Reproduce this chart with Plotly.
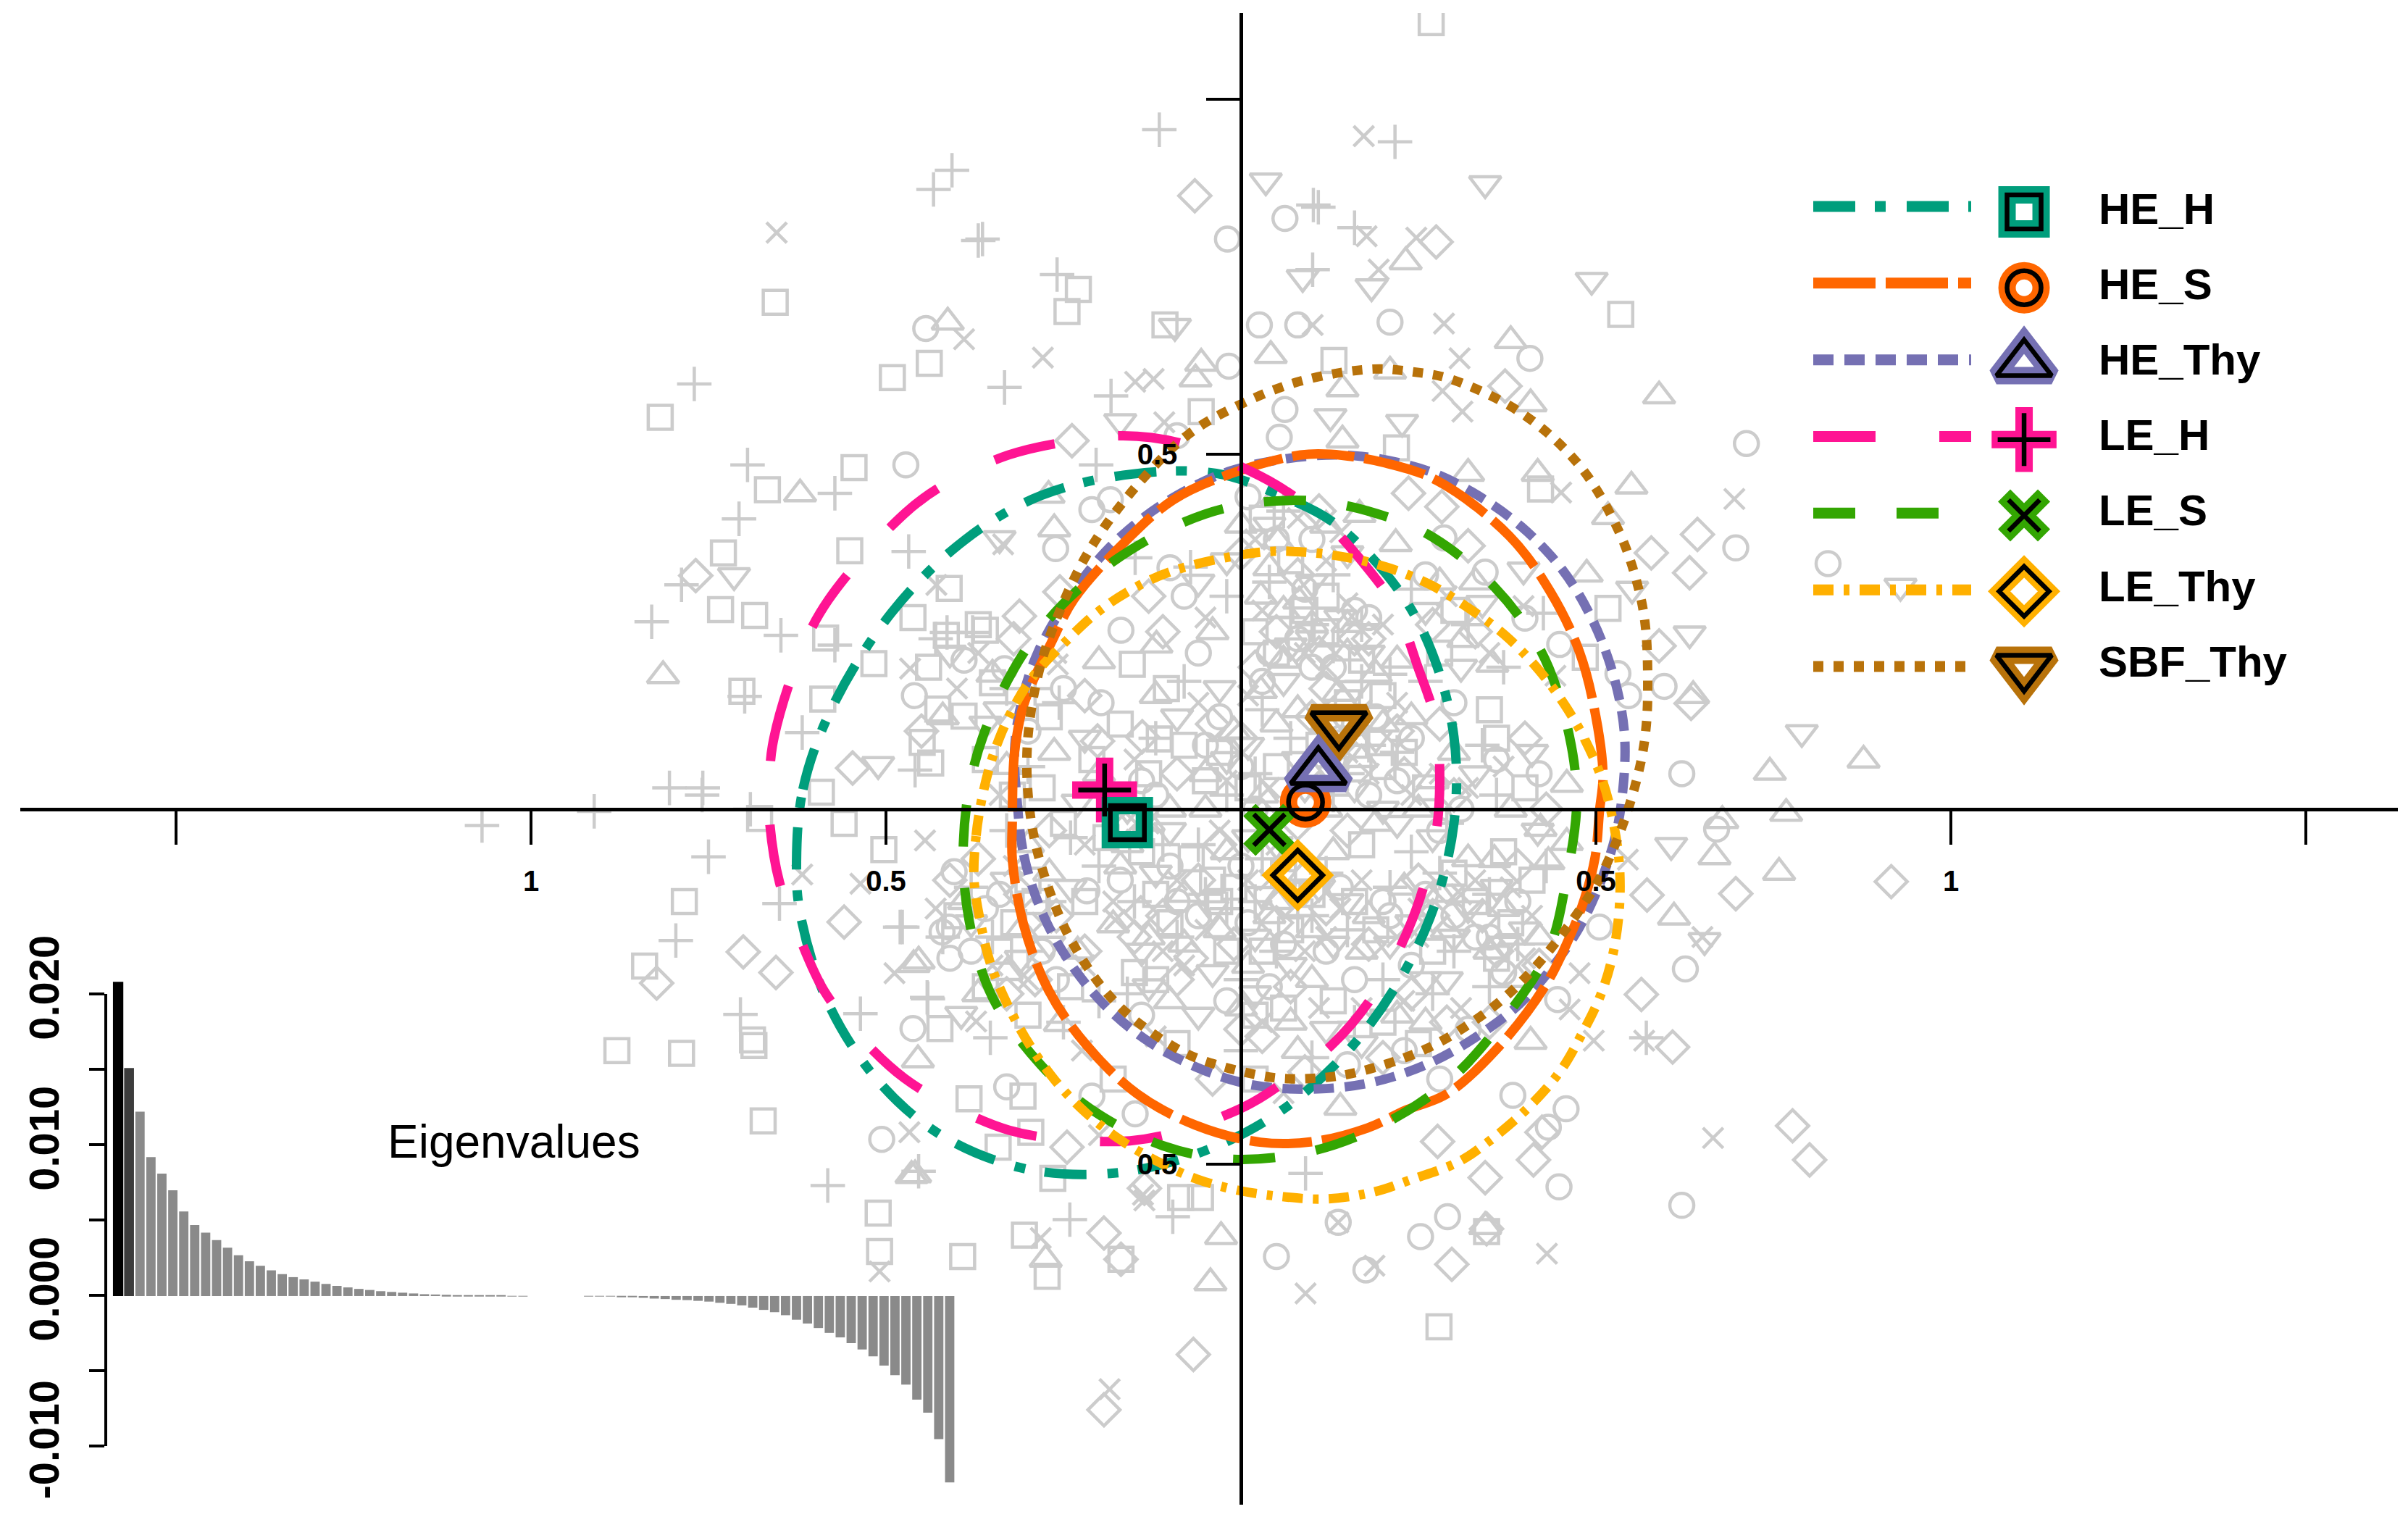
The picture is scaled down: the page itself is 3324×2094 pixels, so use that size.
import plotly.graph_objects as go

# group names, in legend order
groups = ["HE_H", "HE_S", "HE_Thy", "LE_H", "LE_S", "LE_Thy", "SBF_Thy"]

# group centres (factor scores)
centre_x = [-0.160, 0.091, 0.109, -0.192, 0.040, 0.080, 0.138]
centre_y = [-0.019, 0.010, 0.053, 0.027, -0.029, -0.093, 0.119]

# outlines, one list of (x, y) per group
he_h_pts = [(-.626,-.074),(-.617,.028),(-.577,.141),(-.492,.277),(-.388,.380),(-.281,.442),(-.153,.472),
            (-.035,.473),(.053,.443),(.133,.402),(.221,.310),(.269,.221),(.300,.102),(.300,-.020),(.270,-.143),
            (.216,-.253),(.142,-.350),(.046,-.432),(-.064,-.486),(-.184,-.513),(-.306,-.506),(-.421,-.460),
            (-.510,-.384),(-.582,-.272),(-.621,-.146),(-.626,-.074)]
he_s_pts = [(-.322,-.016),(-.319,.079),(-.306,.147),(-.265,.239),(-.235,.296),(-.169,.371),(-.095,.436),
            (-.013,.473),(.084,.499),(.126,.500),(.202,.488),(.276,.463),(.378,.385),(.436,.306),(.477,.221),
            (.500,.130),(.510,.048),(.505,-.003),(.499,-.067),(.484,-.126),(.463,-.180),(.429,-.248),(.361,-.337),
            (.290,-.401),(.232,-.424),(.178,-.449),(.103,-.468),(.027,-.469),(-.064,-.445),(-.146,-.401),
            (-.217,-.333),(-.271,-.255),(-.306,-.163),(-.322,-.071),(-.322,-.016)]
he_thy_pts = [(-.316,.020),(-.306,-.064),(-.282,-.141),(-.245,-.210),(-.192,-.276),(-.129,-.328),(-.054,-.367),
              (.020,-.389),(.109,-.394),(.188,-.384),(.265,-.358),(.337,-.317),(.402,-.265),(.477,-.166),
              (.524,-.051),(.538,.028),(.540,.109),(.524,.191),(.494,.269),(.453,.337),(.395,.398),(.327,.446),
              (.262,.477),(.170,.497),(.092,.497),(-.013,.477),(-.092,.441),(-.166,.387),(-.224,.323),(-.286,.221),
              (-.312,.137),(-.319,.079),(-.316,.020)]
le_h_pts = [(-.664,.017),(-.660,.089),(-.622,.216),(-.581,.295),(-.472,.418),(-.408,.463),(-.327,.499),(-.255,.516),
            (-.166,.526),(-.086,.516),(-.022,.492),(.051,.456),(.116,.408),(.173,.346),(.218,.283),(.249,.201),
            (.274,.124),(.280,.038),(.274,-.039),(.252,-.126),(.223,-.197),(.181,-.270),(.128,-.332),(.061,-.384),
            (.007,-.418),(-.088,-.454),(-.156,-.467),(-.251,-.465),(-.327,-.452),(-.408,-.418),(-.474,-.379),
            (-.537,-.320),(-.587,-.256),(-.622,-.180),(-.650,-.103),(-.664,-.016),(-.664,.017)]
le_s_pts = [(-.391,-.049),(-.376,.061),(-.337,.165),(-.281,.255),(-.200,.334),(-.107,.392),(-.013,.426),(.106,.434),
            (.211,.410),(.272,.382),(.357,.313),(.422,.224),(.459,.119),(.473,.014),(.459,-.095),(.433,-.200),
            (.372,-.294),(.298,-.378),(.208,-.440),(.103,-.481),(-.013,-.493),(-.110,-.474),(-.209,-.424),
            (-.282,-.360),(-.350,-.265),(-.383,-.156),(-.391,-.049)]
le_thy_pts = [(-.376,-.098),(-.373,-.037),(-.363,.024),(-.347,.082),(-.322,.140),(-.292,.188),(-.248,.235),(-.204,.276),
              (-.153,.310),(-.092,.337),(.028,.362),(.091,.362),(.153,.354),(.211,.339),(.269,.315),(.321,.283),
              (.372,.245),(.418,.198),(.456,.147),(.484,.099),(.509,.041),(.524,-.016),(.533,-.078),(.533,-.139),
              (.524,-.204),(.507,-.261),(.480,-.317),(.449,-.370),(.403,-.422),(.349,-.468),(.306,-.497),(.239,-.522),
              (.188,-.539),(.120,-.549),(.061,-.546),(-.003,-.537),(-.062,-.521),(-.118,-.496),(-.171,-.465),
              (-.219,-.427),(-.261,-.383),(-.297,-.333),(-.327,-.279),(-.352,-.220),(-.367,-.159),(-.376,-.098)]
sbf_thy_pts = [(-.301,.088),(-.286,.188),(-.261,.265),(-.214,.364),(-.149,.453),(-.074,.528),(-.001,.570),(.084,.603),
               (.186,.620),(.242,.616),(.295,.606),(.395,.558),(.477,.484),(.533,.390),(.560,.311),(.570,.255),
               (.573,.178),(.571,.119),(.563,.065),(.541,-.013),(.509,-.090),(.480,-.138),(.413,-.224),(.352,-.281),
               (.260,-.338),(.157,-.372),(.102,-.379),(.046,-.378),(-.034,-.360),(-.085,-.340),(-.173,-.276),
               (-.238,-.187),(-.279,-.087),(-.297,-.006),(-.301,.088)]

# grey sample points, one list per symbol
squares = [(.268,1.108),(-.656,.714),(-.229,.732),(-.245,.701),(-.491,.608),(-.439,.628),(-.818,.552),(-.667,.450),
           (-.545,.481),(.535,.697),(-.729,.361),(-.551,.364),(-.733,.281),(-.685,.273),(-.585,.241),(-.462,.270),
           (-.517,.205),(-.415,.245),(-.360,.252),(-.703,.166),(-.589,.155),(-.427,.141),(-.390,.131),(-.449,.094),
           (-.437,.065),(-.056,.560),(-.107,.682),(.131,.632),(.219,.509),(-.411,.311),(-.350,.178),(-.153,.204),
           (-.105,.170),(-.322,.020),(-.115,.099),(-.840,-.221),(-.784,-.130),(-.879,-.340),(-.788,-.344),
           (-.688,-.325),(-.686,-.333),(-.673,-.439),(-.511,-.569),(-.509,-.623),(-.392,-.630),(-.305,-.600),
           (-.273,-.658),(-.169,-.634),(.279,-.729),(.346,-.595),(-.383,-.408),(-.342,-.476),(-.296,-.455),
           (-.265,-.520),(-.424,-.309),(-.085,-.547),(-.057,-.547),(-.503,-.057),(-.307,-.404),(-.678,-.013),
           (-.559,-.020),(-.591,.024),(.517,.283),(.422,.451),(.485,.214),
           (-.30,-.10),(-.25,-.02),(-.21,.07),(-.17,.12),(-.28,.03),(-.22,-.13),(-.14,-.06),(-.10,-.16),(-.05,.04),
           (-.04,-.10),(-.08,.09),(-.02,-.20),(-.15,-.23),(-.24,-.25),(.02,.25),(.05,.06),(.10,-.12),(.17,-.05),
           (.23,.08),(.30,-.09),(.35,.14),(.12,.30),(.06,-.28),(.20,-.30),(-.09,-.33),(.15,.15),(.37,-.06),(.02,-.38),
           (-.18,-.38),(.28,.22),
           (.05,.22),(.12,.25),(.17,.21),(.09,.28),(-.03,.08),(.01,.03),(.16,.09),(.20,.06),(.26,.03),(-.13,.05),
           (-.19,-.04),(-.12,-.12),(-.03,-.13),(.03,-.20),(.07,-.17),(.16,-.13),(.19,-.17),(.33,-.13),(.38,-.16),
           (.41,-.10),(.36,.10),(.40,.03),(-.32,-.16),(-.36,-.25),(-.30,-.29),(-.27,.13),(-.36,.07),(.02,-.29),
           (.13,-.27),(.25,-.33),
           (-.40,-.15),(-.34,-.20),(-.29,-.13),(-.07,-.07),(-.01,-.11),(.06,-.09),(.27,-.20),(.36,-.21),(.03,.41),
           (.07,.35),(.20,.16),(-.12,-.24),(-.44,.20),(-.37,.26),(.11,.09),(.30,.28)]
circles = [(-.019,.803),(.210,.686),(-.444,.677),(-.472,.485),(.026,.682),(.080,.682),(.712,.515),(.697,.368),
           (.827,.346),(.621,.050),(.626,-.225),(.448,-.532),(.621,-.558),(.291,-.574),(.253,-.602),(.050,-.630),
           (.176,-.649),(.137,-.582),(.670,-.028),(.458,-.422),(.433,-.448),(.383,-.403),(.505,-.166),(.446,-.268),
           (.596,.173),(.407,.635),(.400,.269),(.344,.334),(.449,.232),(.531,.191),(.546,.160),(.286,.382),
           (-.261,.367),(-.210,.422),(-.184,.436),(-.169,.252),(-.333,.198),(-.197,.150),(.062,.832),(.062,.563),
           (.054,.524),(-.090,.526),(-.017,.624),(-.462,-.309),(-.506,-.465),(-.421,-.173),(-.411,-.166),(-.330,-.391),
           (-.210,-.404),(-.149,-.429),(-.404,-.088),(-.217,-.115),
           (-.08,.30),(.05,.38),(.16,.28),(.24,.10),(.10,.20),(-.03,.13),(.02,.00),(-.12,.02),(.18,.02),(.28,-.03),
           (.33,-.18),(.24,-.22),(.12,-.20),(-.02,-.27),(-.10,-.08),(-.25,.17),(.36,.07),(.07,-.07),(.14,.10),
           (.21,-.15),(.04,.22),(-.06,.22),(.30,.15),(.15,-.36),(.28,-.38),
           (.08,.24),(.13,.20),(.18,.27),(.03,.18),(-.05,.09),(.00,.06),(.13,.07),(.22,.04),(.31,.00),(-.14,.04),
           (-.17,-.10),(-.09,-.13),(.01,-.16),(.06,-.19),(.14,-.11),(.20,-.13),(.30,-.15),(.35,-.18),(.39,-.13),
           (.42,.05),(-.34,-.12),(-.38,-.20),(-.26,-.24),(-.30,.11),(.04,-.25),(.16,-.24),(.23,-.34),(.32,-.31),
           (.09,.31),(-.10,.34),
           (-.41,-.21),(-.36,-.14),(-.28,-.20),(-.06,-.15),(.00,-.08),(.08,-.12),(.26,-.12),(.37,-.23),(.01,.44),
           (.10,.38),(.19,.13),(-.14,-.29),(-.46,.16),(-.39,.21),(.16,.12),(.26,.33)]
triangles_up = [(-.413,.686),(-.621,.444),(-.814,.188),(-.461,-.219),(-.459,-.515),(-.275,-.634),(-.043,-.667),
                (-.028,-.602),(.589,.582),(.550,.455),(.745,.052),(.877,.069),(.768,-.006),(.758,-.089),(.610,-.152),
                (.232,.771),(.380,.660),(-.056,.628),(-.064,.606),(.042,.639),(-.271,.442),(-.263,.395),(.143,.592),
                (.210,.617),(.143,.520),(-.119,.231),(-.200,.209),(-.263,.080),(.418,.473),(.408,.571),(.517,.412),
                (.487,.331),(.320,.473),(.637,.160),(.667,-.067),(.433,-.074),(.459,-.047),(.408,-.327),(.422,-.027),
                (.357,-.071),(.459,.035),(.678,-.016),(-.454,-.214),(-.180,-.163),(-.464,-.516),(-.455,-.353),
                (-.255,-.302),(.344,-.588),(.082,.293),(.028,.300),(.137,.163),(.028,.167),(.218,.374),(.313,.239),
                (.354,.204),(.167,.415),(.051,.378),
                (.10,.05),(.15,.22),(.05,.12),(-.05,.05),(-.13,-.02),(.20,.12),(.25,.00),(.13,-.06),(-.08,-.12),(.04,-.15),
                (.18,-.15),(.28,-.12),(.00,-.28),(.08,-.34),(.14,-.42),(-.17,-.08),(-.27,-.09),(.30,.08),(.06,.28),
                (-.04,.25),(.35,-.20),(.22,-.29),(-.20,.05),(.10,-.24),(.17,.07),(-.12,.16),(.00,.40),(.12,.40),(.08,.14),
                (.22,.21),
                (.10,.26),(.15,.26),(.06,.21),(.19,.19),(-.01,.11),(-.05,.00),(.03,.02),(.12,.00),(.19,-.02),(.27,.04),
                (-.10,.00),(-.16,-.05),(-.13,-.18),(-.03,-.17),(.05,-.13),(.10,-.17),(.17,-.20),(.23,-.11),(.32,-.07),
                (.37,-.14),(.42,-.18),(.38,.00),(-.30,-.05),(-.33,-.23),(-.23,-.20),(-.33,.06),(.01,-.22),(.07,-.30),
                (.26,-.30),(.33,.32),
                (-.39,-.13),(-.37,-.26),(-.31,-.17),(-.08,-.19),(-.02,-.06),(.09,-.09),(.29,-.17),(.39,-.24),(.05,.44),
                (.04,.34),(.24,.13),(-.10,-.27),(-.42,.13),(-.35,.19),(.12,.12),(.28,.32)]
pluses = [(.217,.940),(.102,.851),(.160,.819),(-.407,.900),(-.433,.873),(-.364,.803),(-.370,.801),(-.259,.753),
          (-.115,.957),(-.333,.594),(-.770,.599),(-.183,.582),(-.204,.485),(-.695,.485),(-.572,.445),(-.707,.409),
          (-.468,.363),(-.788,.316),(-.830,.264),(-.648,.245),(-.572,.231),(-.618,.108),(-.805,.030),(-.758,.030),
          (-.699,.159),(.109,.848),(.101,.760),(-.759,.020),(-1.069,-.023),(-.911,-.003),(-.750,-.067),(-.691,.000),
          (-.477,-.166),(-.650,-.133),(-.705,-.289),(-.796,-.185),(-.582,-.530),(-.454,-.510),(-.536,-.288),
          (-.441,-.267),(-.480,-.166),(-.442,-.265),(-.353,-.322),(-.241,-.578),(-.096,-.574),(.091,-.513),
          (-.256,.150),(-.459,.055),(-.378,.249),(-.414,.249),(-.149,.354),(-.071,.341),(.426,.276),(.571,-.322),
          (-.30,.06),(-.24,-.04),(-.12,.10),(-.06,-.05),(-.15,-.13),(.04,.32),(.10,.26),(.02,.05),(-.02,-.14),(.05,-.20),
          (.13,.02),(.17,.18),(.24,-.06),(.30,-.20),(.20,-.24),(.10,-.35),(.00,-.34),(-.08,.18),(.26,.18),(.36,.02),
          (-.30,-.20),(-.20,-.27),(.12,-.09),(.07,.10),
          (.07,.27),(.13,.23),(.17,.26),(.03,.14),(-.02,.02),(.06,.00),(.15,.05),(.22,.08),(.29,-.02),(-.11,-.05),
          (-.20,-.08),(-.09,-.18),(.02,-.13),(.08,-.15),(.15,-.17),(.21,-.11),(.35,-.12),(.39,-.19),(.43,-.08),
          (.34,.09),(-.33,-.03),(-.35,-.18),(-.25,-.30),(-.29,.17),(.00,-.24),(.16,-.30),(.27,-.26),(.24,.31),
          (-.02,.30),(.37,.20),
          (-.42,-.18),(-.38,-.11),(-.27,-.13),(-.05,-.12),(.03,-.07),(.10,-.15),(.28,-.09),(.35,-.25),(.06,.42),
          (.13,.33),(.21,.19),(-.16,-.26),(-.43,.24),(-.33,.17),(.18,.09),(.32,.26)]
crosses = [(.173,.948),(-.654,.812),(-.390,.662),(-.279,.636),(-.149,.602),(-.108,.545),(.286,.684),(.247,.805),
           (.695,.437),(.284,.589),(.665,-.463),(.431,-.626),(.091,-.682),(.188,-.643),(-.185,-.817),(.137,-.582),
           (-.138,-.543),(-.282,-.604),(-.123,.606),(.177,.807),(.312,.560),(.308,.635),(-.466,.198),(-.335,.373),
           (.101,.682),(.194,.760),(.451,.446),(.398,.286),(.443,.188),(.545,-.071),(.650,-.180),(.568,-.326),
           (.477,-.231),(.463,-.282),(.497,-.326),(-.429,.316),(-.258,.204),(-.536,-.105),(-.445,-.044),(-.618,-.092),
           (-.488,-.231),(-.467,-.455),(-.136,-.551),(-.177,-.156),(-.373,-.299),(-.224,-.340),(-.200,-.459),
           (-.509,-.651),
           (-.06,.15),(.03,.28),(.11,.12),(.20,.26),(.28,.05),(-.15,.07),(-.22,-.05),(-.08,-.22),(.04,-.10),(.14,-.14),
           (.25,-.18),(.33,-.10),(.17,-.28),(.06,-.40),(-.03,-.03),(.12,.35),(-.12,-.32),(-.28,-.16),(.22,.15),(.31,-.28),
           (.09,.22),(.15,.29),(.12,.20),(.01,.16),(-.02,.04),(.04,.03),(.18,.05),(.24,.02),(.32,.03),(-.13,-.02),
           (-.18,-.13),(-.05,-.17),(.01,-.10),(.09,-.20),(.17,-.10),(.22,-.18),(.31,-.12),(.38,-.11),(.41,-.15),
           (.37,.06),(-.32,-.08),(-.34,.02),(-.22,-.22),(-.26,.22),(.03,-.30),(.11,-.28),(.23,-.27),(.35,.22),
           (-.05,.27),(.14,.39),
           (-.43,-.14),(-.35,-.22),(-.30,-.24),(-.09,-.10),(.05,-.05),(.12,-.18),(.25,-.14),(.40,-.21),(.02,.38),
           (.08,.41),(.17,.14),(-.11,-.20),(-.40,.17),(-.37,.22),(.15,.08),(.29,.30)]
diamonds = [(-.065,.864),(.275,.799),(-.238,.519),(-.768,.329),(.643,.387),(.632,.333),(.578,.361),(.634,.149),
            (.916,-.102),(.697,-.119),(.777,-.446),(.801,-.494),(.608,-.335),(.297,-.641),(.346,-.591),(-.067,-.768),
            (-.193,-.846),(-.169,-.634),(-.823,-.245),(-.701,-.201),(-.547,.058),(.236,.445),(-.193,-.597),(.572,-.121),
            (.564,-.261),(.412,-.494),(.344,-.519),(.277,-.468),(.424,-.455),(.589,.230),(.372,.596),(.283,.426),
            (.320,.371),(-.202,.096),(-.139,.102),(-.312,.272),(-.255,.306),(-.559,-.159),(-.655,-.230),(-.141,-.146),
            (-.136,-.534),(-.245,-.476),(-.220,-.200),
            (.00,.10),(-.11,.25),(.18,.24),(.28,.12),(.08,-.02),(-.06,-.10),(.15,-.03),(.25,-.10),(.36,-.20),(.20,-.35),
            (.07,-.25),(-.04,-.38),(-.15,-.18),(-.27,-.03),(.03,-.32),(.29,-.30),(.40,.10),(.12,.17),(-.18,.00),(.33,.25),
            (.05,.25),(.11,.22),(.16,.24),(.02,.20),(-.04,.12),(.03,-.01),(.11,.03),(.23,.05),(.30,.02),(-.09,.05),
            (-.17,-.02),(-.11,-.15),(-.01,-.19),(.05,-.16),(.12,-.14),(.18,-.19),(.27,-.15),(.34,-.15),(.39,-.08),
            (.43,.00),(-.31,-.12),(-.37,-.07),(-.29,-.24),(-.22,.16),(.00,-.31),(.09,-.37),(.24,-.26),(.35,-.30),
            (.08,.33),(-.13,.30),
            (-.41,-.10),(-.33,-.26),(-.26,-.15),(-.07,-.21),(-.03,-.05),(.06,-.13),(.29,-.11),(.42,-.22),(.00,.36),
            (.11,.42),(.22,.11),(-.09,-.24),(-.45,.11),(-.32,.24),(.10,.13),(.27,.26)]
triangles_down = [(.035,.885),(.344,.881),(.087,.749),(.184,.736),(-.093,.680),(.494,.745),(.227,.545),(-.714,.329),
                  (-.511,.063),(.632,.247),(.929,.314),(.790,.108),(.606,-.051),(.126,.553),(-.170,.546),(-.340,.381),
                  (.551,.310),(.398,.337),(.653,-.185),(.418,-.031),(-.394,-.289),
                  (-.06,.32),(.10,.32),(.06,.18),(-.02,.07),(.16,.03),(.22,-.02),(-.10,-.03),(-.22,.10),(.02,-.18),(.13,-.19),
                  (.26,-.24),(-.14,-.20),(-.06,-.29),(.12,-.31),(.33,.05),(.32,-.14),(.19,.10),(-.02,.35),(.05,-.05),(.09,.03),
                  (.07,.23),(.14,.27),(.10,.24),(.18,.22),(-.03,.17),(.01,.09),(.13,.05),(.20,.00),(.27,-.04),(-.16,.00),
                  (-.12,-.09),(-.04,-.14),(.03,-.12),(.07,-.22),(.15,-.13),(.21,-.19),(.30,-.18),(.36,-.11),(.40,-.17),
                  (.41,.08),(-.33,-.10),(-.36,.12),(-.27,-.19),(.02,-.26),(.17,-.33),(.29,-.24),(.31,.20),(.26,.28),
                  (-.09,.13),(-.23,.01),
                  (-.38,-.16),(-.31,-.21),(-.24,-.11),(-.04,-.23),(.01,-.04),(.11,-.11),(.24,-.16),(.37,-.19),(.04,.40),
                  (.15,.36),(.16,.17),(-.13,-.25),(-.41,.22),(-.34,.14),(.08,.07),(.34,.29)]

# eigenvalue screeplot
eigenvalues = [.0208,.0151,.0122,.0092,.0081,.0070,.0056,.0047,.0042,.0037,.0032,.0027,.0023,.0020,.0017,.00145,
               .00125,.0011,.00095,.0008,.00067,.00057,.00047,.0004,.00032,.00027,.00022,.00017,.00012,.0001,.00008,
               .00006,.00005,.00004,.00003,.00002,.00001,.00001,0,0,0,0,0,-.00001,-.00001,-.00002,-.00005,-.00007,
               -.00012,-.00017,-.0002,-.00025,-.00027,-.00032,-.00037,-.00045,-.00052,-.00062,-.00077,-.00092,-.00107,
               -.00127,-.00157,-.00182,-.00212,-.00244,-.00274,-.00312,-.00354,-.00399,-.00461,-.00524,-.00586,-.00686,
               -.00773,-.00948,-.01234]

x_ticks = [-1.5, -1, -0.5, 0.5, 1, 1.5]
x_tick_labels = ["", "1", "0.5", "0.5", "1", ""]
y_ticks = [-0.5, 0.5, 1]
y_tick_labels = ["0.5", "0.5", ""]
eig_ticks = [-0.01, -0.005, 0, 0.005, 0.01, 0.015, 0.02]
eig_tick_labels = ["-0.010", "", "0.000", "", "0.010", "", "0.020"]

colors = ["#009E7C", "#FF6600", "#7570B3", "#FF1493", "#33A602", "#FFB000", "#B8720A"]
dashes = ["58px,27px,15px,29px", "86px,14px", "28px,15px", "86px,88px", "58px,57px", "28px,14px,8px,14px", "14px,14px"]
symbols = ["square-open", "circle-open", "triangle-up-open", "cross-thin-open", "x-thin-open", "diamond-open",
           "triangle-down-open"]
outlines = [he_h_pts, he_s_pts, he_thy_pts, le_h_pts, le_s_pts, le_thy_pts, sbf_thy_pts]
ring_sizes = [47, 47, 66, 64, 55, 53, 66]
core_sizes = [47, 47, 66, 52, 43, 53, 66]
ring_widths = [24, 24, 24, 24, 24, 22, 24]
FONT = "Liberation Sans"
GREY = "#cccccc"
CLEAR = "rgba(0,0,0,0)"

fig = go.Figure()

grey_sets = [(squares, "square-open", 33), (circles, "circle-open", 33), (triangles_up, "triangle-up-open", 38),
             (pluses, "cross-thin-open", 34), (crosses, "x-thin-open", 28), (diamonds, "diamond-open", 34),
             (triangles_down, "triangle-down-open", 38)]
for pts, sym, size in grey_sets:
    xs, ys = zip(*pts)
    fig.add_trace(go.Scatter(x=xs, y=ys, mode="markers", xaxis="x", yaxis="y",
                             marker=dict(symbol=sym, size=size, color=GREY, line=dict(width=4.5, color=GREY))))

# screeplot: the bars overshoot the drawn axis, so they get a taller hidden y axis (y5)
bar_colors = ["#000000", "#3c3c3c"] + ["#8a8a8a"] * (len(eigenvalues) - 2)
bar_widths = [0.95, 0.9] + [0.85] * (len(eigenvalues) - 2)
fig.add_trace(go.Scatter(x=[], y=[], xaxis="x2", yaxis="y2"))
fig.add_trace(go.Bar(x=list(range(len(eigenvalues))), y=eigenvalues, xaxis="x2", yaxis="y5",
                     width=bar_widths, marker=dict(color=bar_colors, line=dict(width=0))))

# outlines go on a second axis pair so they sit above the black axes
for i in [0, 2, 1, 3, 4, 5, 6]:
    xs, ys = zip(*outlines[i])
    fig.add_trace(go.Scatter(x=xs, y=ys, mode="lines", xaxis="x3", yaxis="y3",
                             line=dict(color=colors[i], width=13, dash=dashes[i], shape="spline", smoothing=1)))


def add_group_markers(xs, ys, xaxis, yaxis):
    # coloured strokes first, black strokes on top of all of them
    for i in [6, 1, 2, 3, 4, 5, 0]:
        fig.add_trace(go.Scatter(x=[xs[i]], y=[ys[i]], mode="markers", xaxis=xaxis, yaxis=yaxis,
                                 marker=dict(symbol=symbols[i], size=ring_sizes[i], color=colors[i],
                                             line=dict(width=ring_widths[i], color=colors[i]))))
    for i in [6, 2, 1, 3, 4, 5, 0]:
        fig.add_trace(go.Scatter(x=[xs[i]], y=[ys[i]], mode="markers", xaxis=xaxis, yaxis=yaxis,
                                 marker=dict(symbol=symbols[i], size=core_sizes[i], color="black",
                                             line=dict(width=6.5, color="black"))))


add_group_markers(centre_x, centre_y, "x3", "y3")

# hand made legend: line, marker, name on each row
rows = list(range(len(groups)))
for i in rows:
    fig.add_trace(go.Scatter(x=[0, 1], y=[i, i], mode="lines", xaxis="x4", yaxis="y4",
                             line=dict(color=colors[i], width=15, dash=dashes[i])))
add_group_markers([1.335] * len(groups), [r * 0.99 + 0.07 for r in rows], "x4", "y4")
fig.add_trace(go.Scatter(x=[1.807] * len(groups), y=[r * 0.985 + 0.08 for r in rows], mode="text",
                         xaxis="x4", yaxis="y4", text=groups, textposition="middle right",
                         textfont=dict(family=FONT, size=60, color="black", weight=700)))

main_x = dict(domain=[28 / 3324, 3310 / 3324], range=[-1.7194, 1.6296])
main_y = dict(domain=[17 / 2094, 2076 / 2094], range=[-0.9796, 1.1214])
axis_style = dict(showgrid=False, zeroline=False, showline=True, linecolor="black", linewidth=4.5, ticks="outside",
                  ticklen=46, tickwidth=4, tickcolor="black", tickmode="array",
                  tickfont=dict(family=FONT, size=40, color="black", weight=700))

fig.update_layout(
    width=3324, height=2094, margin=dict(l=0, r=0, t=0, b=0, autoexpand=False), showlegend=False,
    plot_bgcolor=CLEAR, paper_bgcolor="white",
    xaxis=dict(**main_x, **axis_style, anchor="free", position=977 / 2094, side="bottom",
               tickvals=x_ticks, ticktext=x_tick_labels, ticklabelstandoff=16),
    yaxis=dict(**main_y, **axis_style, anchor="free", position=1713 / 3324, side="left",
               tickvals=y_ticks, ticktext=y_tick_labels, ticklabelstandoff=32),
    xaxis2=dict(domain=[155.5 / 3324, 1318.5 / 3324], range=[-0.5, 76.5], visible=False, anchor="y2"),
    yaxis2=dict(domain=[98 / 2094, 722 / 2094], range=[-0.01, 0.02], anchor="free", position=145.5 / 3324,
                side="left", showgrid=False, zeroline=False, showline=True, linecolor="black", linewidth=4,
                ticks="outside", ticklen=21, tickwidth=4, tickcolor="black", tickmode="array",
                tickvals=eig_ticks, ticktext=eig_tick_labels, tickangle=-90, ticklabelstandoff=18,
                tickfont=dict(family=FONT, size=58, color="black", weight=700)),
    yaxis5=dict(domain=[34 / 2094, 753.3 / 2094], range=[-0.013, 0.0215], visible=False, anchor="x2"),
    xaxis3=dict(range=main_x["range"], overlaying="x", visible=False, anchor="y3"),
    yaxis3=dict(range=main_y["range"], overlaying="y", visible=False, anchor="x3"),
    xaxis4=dict(domain=[2503 / 3324, 3300 / 3324], range=[0, 3.656], visible=False, anchor="y4"),
    yaxis4=dict(domain=[1114 / 2094, 1864 / 2094], range=[6.567, -0.52], visible=False, anchor="x4"),
    annotations=[dict(x=36.2, y=0.0102, xref="x2", yref="y2", text="Eigenvalues", showarrow=False,
                      font=dict(family=FONT, size=64, color="black"))],
)

# the page's default body margin would shift the whole figure
fig.write_html("out.html", post_script="document.body.style.margin='0';", config=dict(displayModeBar=False))
